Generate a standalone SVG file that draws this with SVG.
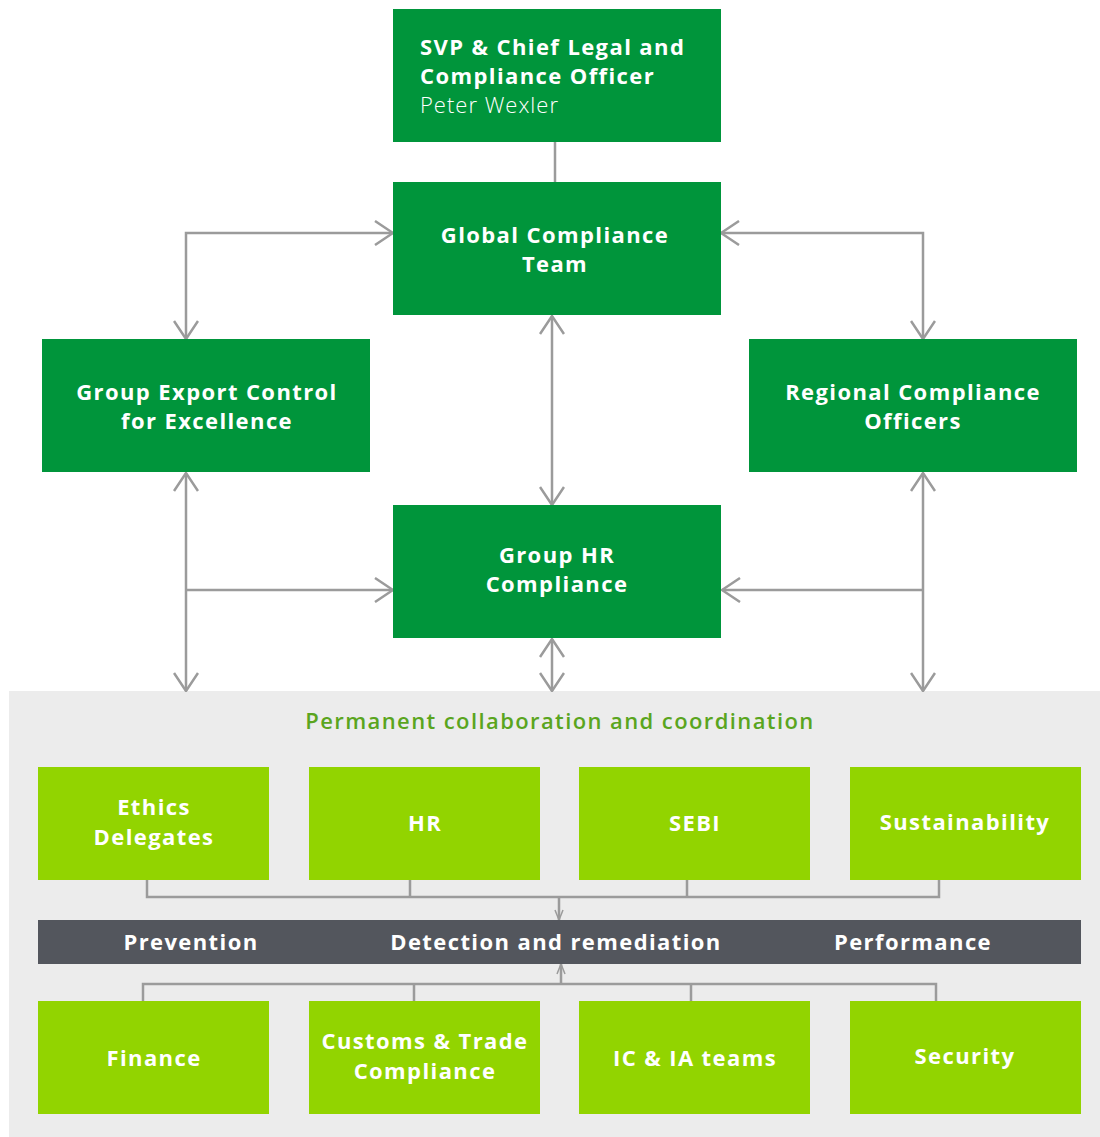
<svg xmlns="http://www.w3.org/2000/svg" width="1100" height="1137" viewBox="0 0 1100 1137">
<defs>
<marker id="ah" viewBox="0 0 20 26" refX="19" refY="13" markerWidth="20" markerHeight="26" markerUnits="userSpaceOnUse" orient="auto-start-reverse">
<path d="M1,1 L19,13 L1,25" fill="none" stroke="#9b9b9b" stroke-width="2.5"/>
</marker>
<marker id="sh" viewBox="0 0 12 10" refX="11" refY="5" markerWidth="12" markerHeight="10" markerUnits="userSpaceOnUse" orient="auto">
<path d="M1,1 L11,5 L1,9" fill="none" stroke="#9b9b9b" stroke-width="1.5"/>
</marker>
</defs>
<style>
.dg{fill:#00953b}
.lm{fill:#92d400}
.t{font-family:"Open Sans","Liberation Sans",sans-serif;font-weight:700;font-size:22px;fill:#fff;text-anchor:middle;letter-spacing:1.4px}
.c{fill:none;stroke:#9b9b9b;stroke-width:2.5}
.cs{fill:none;stroke:#9b9b9b;stroke-width:2.5}
</style>
<rect width="1100" height="1137" fill="#fff"/>
<rect x="9" y="691" width="1091" height="446" fill="#ececec"/>
<g id="connectors">
<line class="c" x1="555" y1="142" x2="555" y2="182"/>
<polyline class="c" points="393,233 186,233 186,339" marker-start="url(#ah)" marker-end="url(#ah)"/>
<polyline class="c" points="721,233 923,233 923,339" marker-start="url(#ah)" marker-end="url(#ah)"/>
<line class="c" x1="552" y1="316" x2="552" y2="505" marker-start="url(#ah)" marker-end="url(#ah)"/>
<line class="c" x1="186" y1="473" x2="186" y2="691" marker-start="url(#ah)" marker-end="url(#ah)"/>
<line class="c" x1="186" y1="590" x2="393" y2="590" marker-end="url(#ah)"/>
<line class="c" x1="923" y1="473" x2="923" y2="691" marker-start="url(#ah)" marker-end="url(#ah)"/>
<line class="c" x1="923" y1="590" x2="722" y2="590" marker-end="url(#ah)"/>
<line class="c" x1="552" y1="639" x2="552" y2="691" marker-start="url(#ah)" marker-end="url(#ah)"/>
<polyline class="cs" points="147,880 147,897 939,897 939,880"/>
<line class="cs" x1="410" y1="880" x2="410" y2="897"/>
<line class="cs" x1="687" y1="880" x2="687" y2="897"/>
<line class="cs" x1="559" y1="897" x2="559" y2="920" marker-end="url(#sh)"/>
<polyline class="cs" points="143,1001 143,984 936,984 936,1001"/>
<line class="cs" x1="414" y1="984" x2="414" y2="1001"/>
<line class="cs" x1="691" y1="984" x2="691" y2="1001"/>
<line class="cs" x1="561" y1="984" x2="561" y2="964" marker-end="url(#sh)"/>
</g>
<g id="svp">
<rect class="dg" x="393" y="9" width="328" height="133"/>
<text class="t" x="420" y="55" style="text-anchor:start">SVP &amp; Chief Legal and</text>
<text class="t" x="420" y="84" style="text-anchor:start">Compliance Officer</text>
<text class="t" x="420" y="113" style="text-anchor:start;font-weight:300;letter-spacing:1px">Peter Wexler</text>
</g>
<g id="global">
<rect class="dg" x="393" y="182" width="328" height="133"/>
<text class="t" x="555" y="243">Global Compliance</text>
<text class="t" x="555" y="272">Team</text>
</g>
<g id="export">
<rect class="dg" x="42" y="339" width="328" height="133"/>
<text class="t" x="207" y="400">Group Export Control</text>
<text class="t" x="207" y="429">for Excellence</text>
</g>
<g id="regional">
<rect class="dg" x="749" y="339" width="328" height="133"/>
<text class="t" x="913" y="400">Regional Compliance</text>
<text class="t" x="913" y="429">Officers</text>
</g>
<g id="hrcompliance">
<rect class="dg" x="393" y="505" width="328" height="133"/>
<text class="t" x="557" y="563">Group HR</text>
<text class="t" x="557" y="592">Compliance</text>
</g>
<text x="560" y="729" style="font-family:'Open Sans','Liberation Sans',sans-serif;font-weight:600;font-size:22px;fill:#5aa51e;text-anchor:middle;letter-spacing:1.4px">Permanent collaboration and coordination</text>
<g id="ethics">
<rect class="lm" x="38" y="767" width="231" height="113"/>
<text class="t" x="154" y="815">Ethics</text>
<text class="t" x="154" y="845">Delegates</text>
</g>
<g id="hr">
<rect class="lm" x="309" y="767" width="231" height="113"/>
<text class="t" x="425" y="831">HR</text>
</g>
<g id="sebi">
<rect class="lm" x="579" y="767" width="231" height="113"/>
<text class="t" x="695" y="831">SEBI</text>
</g>
<g id="sustainability">
<rect class="lm" x="850" y="767" width="231" height="113"/>
<text class="t" x="965" y="830">Sustainability</text>
</g>
<g id="bar">
<rect x="38" y="920" width="1043" height="44" fill="#53565d"/>
<text class="t" x="191" y="950">Prevention</text>
<text class="t" x="556" y="950">Detection and remediation</text>
<text class="t" x="913" y="950">Performance</text>
</g>
<g id="finance">
<rect class="lm" x="38" y="1001" width="231" height="113"/>
<text class="t" x="154" y="1066">Finance</text>
</g>
<g id="customs">
<rect class="lm" x="309" y="1001" width="231" height="113"/>
<text class="t" x="425" y="1049">Customs &amp; Trade</text>
<text class="t" x="425" y="1079">Compliance</text>
</g>
<g id="icia">
<rect class="lm" x="579" y="1001" width="231" height="113"/>
<text class="t" x="695" y="1066">IC &amp; IA teams</text>
</g>
<g id="security">
<rect class="lm" x="850" y="1001" width="231" height="113"/>
<text class="t" x="965" y="1064">Security</text>
</g>
</svg>
